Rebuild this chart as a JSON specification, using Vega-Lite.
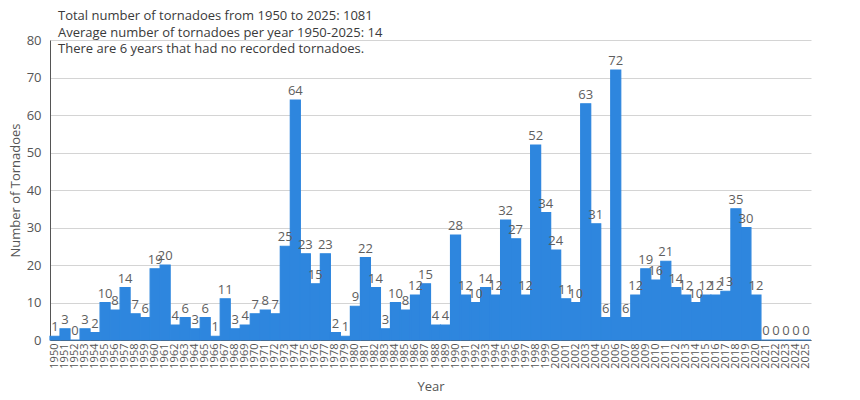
{
  "$schema": "https://vega.github.io/schema/vega-lite/v6.json",
  "autosize": {"type": "none"},
  "padding": {"left": 50, "top": 40, "right": 49, "bottom": 60},
  "width": 761,
  "height": 300,
  "config": {
    "font": "Open Sans",
    "view": {"stroke": null},
    "axis": {"labelFont": "Open Sans", "titleFont": "Open Sans", "labelColor": "#555555", "titleColor": "#555555", "titleFontWeight": "normal", "titleFontSize": 13}
  },
  "title": {
    "text": ["Total number of tornadoes from 1950 to 2025: 1081", "Average number of tornadoes per year 1950-2025: 14", "There are 6 years that had no recorded tornadoes."],
    "anchor": "start",
    "frame": "group",
    "dx": 8,
    "offset": -22,
    "fontSize": 13,
    "fontWeight": "normal",
    "lineHeight": 16.5,
    "color": "#3a3a3a",
    "font": "Open Sans"
  },
  "data": {"values": [
    {"Year": "1950", "Count": 1}, {"Year": "1951", "Count": 3}, {"Year": "1952", "Count": 0}, {"Year": "1953", "Count": 3}, {"Year": "1954", "Count": 2},
    {"Year": "1955", "Count": 10}, {"Year": "1956", "Count": 8}, {"Year": "1957", "Count": 14}, {"Year": "1958", "Count": 7}, {"Year": "1959", "Count": 6},
    {"Year": "1960", "Count": 19}, {"Year": "1961", "Count": 20}, {"Year": "1962", "Count": 4}, {"Year": "1963", "Count": 6}, {"Year": "1964", "Count": 3},
    {"Year": "1965", "Count": 6}, {"Year": "1966", "Count": 1}, {"Year": "1967", "Count": 11}, {"Year": "1968", "Count": 3}, {"Year": "1969", "Count": 4},
    {"Year": "1970", "Count": 7}, {"Year": "1971", "Count": 8}, {"Year": "1972", "Count": 7}, {"Year": "1973", "Count": 25}, {"Year": "1974", "Count": 64},
    {"Year": "1975", "Count": 23}, {"Year": "1976", "Count": 15}, {"Year": "1977", "Count": 23}, {"Year": "1978", "Count": 2}, {"Year": "1979", "Count": 1},
    {"Year": "1980", "Count": 9}, {"Year": "1981", "Count": 22}, {"Year": "1982", "Count": 14}, {"Year": "1983", "Count": 3}, {"Year": "1984", "Count": 10},
    {"Year": "1985", "Count": 8}, {"Year": "1986", "Count": 12}, {"Year": "1987", "Count": 15}, {"Year": "1988", "Count": 4}, {"Year": "1989", "Count": 4},
    {"Year": "1990", "Count": 28}, {"Year": "1991", "Count": 12}, {"Year": "1992", "Count": 10}, {"Year": "1993", "Count": 14}, {"Year": "1994", "Count": 12},
    {"Year": "1995", "Count": 32}, {"Year": "1996", "Count": 27}, {"Year": "1997", "Count": 12}, {"Year": "1998", "Count": 52}, {"Year": "1999", "Count": 34},
    {"Year": "2000", "Count": 24}, {"Year": "2001", "Count": 11}, {"Year": "2002", "Count": 10}, {"Year": "2003", "Count": 63}, {"Year": "2004", "Count": 31},
    {"Year": "2005", "Count": 6}, {"Year": "2006", "Count": 72}, {"Year": "2007", "Count": 6}, {"Year": "2008", "Count": 12}, {"Year": "2009", "Count": 19},
    {"Year": "2010", "Count": 16}, {"Year": "2011", "Count": 21}, {"Year": "2012", "Count": 14}, {"Year": "2013", "Count": 12}, {"Year": "2014", "Count": 10},
    {"Year": "2015", "Count": 12}, {"Year": "2016", "Count": 12}, {"Year": "2017", "Count": 13}, {"Year": "2018", "Count": 35}, {"Year": "2019", "Count": 30},
    {"Year": "2020", "Count": 12}, {"Year": "2021", "Count": 0}, {"Year": "2022", "Count": 0}, {"Year": "2023", "Count": 0}, {"Year": "2024", "Count": 0},
    {"Year": "2025", "Count": 0}
  ]},
  "encoding": {
    "x": {
      "field": "Year", "type": "ordinal",
      "scale": {"paddingInner": 0, "paddingOuter": 0},
      "axis": {"title": "Year", "labelAngle": 270, "labelFontSize": 11, "ticks": false, "labelPadding": 3, "domainColor": "#555555", "titleY": 40, "titleBaseline": "top"}
    },
    "y": {
      "field": "Count", "type": "quantitative",
      "scale": {"domain": [0, 80], "nice": false},
      "axis": {"title": "Number of Tornadoes", "values": [0, 10, 20, 30, 40, 50, 60, 70, 80], "labelOverlap": false, "labelFontSize": 13, "ticks": false, "labelPadding": 9, "domainColor": "#555555", "gridColor": "#d4d4d4", "titlePadding": 4}
    }
  },
  "layer": [
    {"mark": {"type": "bar", "color": "#2e86de", "stroke": "#2e86de", "strokeWidth": 1.2}},
    {"mark": {"type": "text", "baseline": "bottom", "dy": -2, "fontSize": 13, "color": "#5e5e5e"}, "encoding": {"text": {"field": "Count", "type": "quantitative"}}}
  ]
}
